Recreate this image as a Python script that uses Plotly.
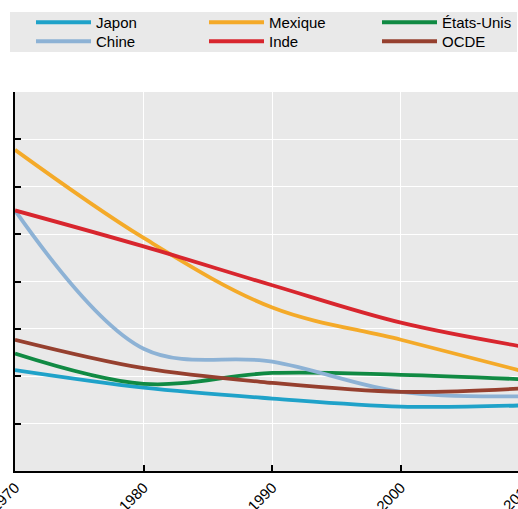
import plotly.graph_objects as go

years = [1970, 1980, 1990, 2000, 2010]
japon = [2.13, 1.76, 1.53, 1.36, 1.39]
chine = [5.50, 2.58, 2.31, 1.67, 1.58]
mexique = [6.78, 4.92, 3.45, 2.77, 2.07]
inde = [5.50, 4.74, 3.92, 3.13, 2.60]
etats_unis = [2.48, 1.84, 2.07, 2.03, 1.93]
ocde = [2.77, 2.17, 1.86, 1.67, 1.75]

x_ticks = [1970, 1980, 1990, 2000]
x_range = [1970, 2009.1]
y_ticks = [0, 1, 2, 3, 4, 5, 6, 7, 8]

# name, values, colour, legend column, legend row
series = [
    ("Japon", japon, "#1FA2C9", 0, 0),
    ("Mexique", mexique, "#F4AA29", 1, 0),
    ("États-Unis", etats_unis, "#108A43", 2, 0),
    ("Chine", chine, "#8DB2D5", 0, 1),
    ("Inde", inde, "#D8262E", 1, 1),
    ("OCDE", ocde, "#96402F", 2, 1),
]

FONT = "Liberation Sans, Arial, sans-serif"
BG = "#E9E9E9"

W, H = 518, 509
ml, mr, mt, mb = 15, 0, 92, 38
pw = W - ml - mr
ph = H - mt - mb

def px2x(px):
    return (px - ml) / pw

def py2y(py):
    return (H - mb - py) / ph

col_px = [31, 204, 377]
row_px = [6, 25]

fig = go.Figure()
legends = {}
for i, (name, vals, color, col, row) in enumerate(series):
    key = "legend" if i == 0 else f"legend{i + 1}"
    fig.add_trace(go.Scatter(
        x=years, y=vals, name=name, mode="lines",
        line=dict(color=color, width=3.8, shape="spline"),
        legend=key,
    ))
    legends[key] = dict(
        x=px2x(col_px[col]), y=py2y(row_px[row]),
        xanchor="left", yanchor="top", orientation="v",
        bgcolor="rgba(0,0,0,0)", itemwidth=55,
        font=dict(family=FONT, size=15, color="#000"),
    )
fig.update_layout(**legends)

fig.add_shape(type="rect", xref="paper", yref="paper",
              x0=px2x(10), x1=px2x(517), y0=py2y(52), y1=py2y(12),
              fillcolor=BG, line=dict(width=0), layer="below")

# label of the 2010 tick, which lies just past the visible range
last_year = 2010
fig.add_annotation(x=(last_year - x_range[0]) / (x_range[1] - x_range[0]), y=0,
                   xref="paper", yref="paper", text=str(last_year),
                   showarrow=False, textangle=-45, xanchor="right",
                   yanchor="top", yshift=-5, xshift=8,
                   font=dict(family=FONT, size=15, color="#000"))

fig.update_layout(
    template="none",
    width=W, height=H,
    margin=dict(l=ml, r=mr, t=mt, b=mb, pad=0),
    paper_bgcolor="white",
    plot_bgcolor=BG,
    showlegend=True,
    font=dict(family=FONT, size=15, color="#000"),
    xaxis=dict(
        range=x_range, tickvals=x_ticks, ticktext=[str(v) for v in x_ticks],
        tickangle=-45, ticks="inside", ticklen=6, tickwidth=2, tickcolor="#000",
        showline=True, linecolor="#000", linewidth=2,
        showgrid=True, gridcolor="white", gridwidth=1.2,
        zeroline=False, automargin=False, ticklabeloverflow="allow",
        tickfont=dict(family=FONT, size=15, color="#000"),
    ),
    yaxis=dict(
        range=[0, 8], tickvals=y_ticks, showticklabels=False,
        ticks="inside", ticklen=6, tickwidth=2, tickcolor="#000",
        showline=True, linecolor="#000", linewidth=2,
        showgrid=True, gridcolor="white", gridwidth=1.2,
        zeroline=False, automargin=False,
    ),
)

fig.write_html(
    "out.html",
    config={"displayModeBar": False},
    post_script="document.body.style.margin='0';document.body.style.overflow='hidden';",
)
